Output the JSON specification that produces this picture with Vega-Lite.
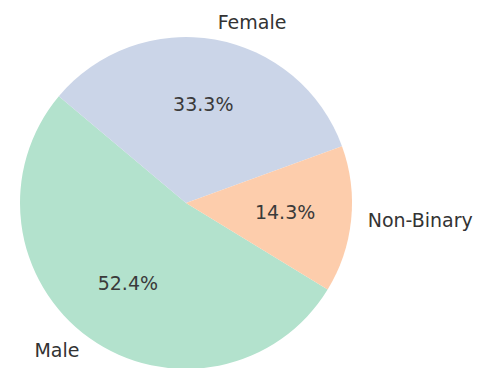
{
  "$schema": "https://vega.github.io/schema/vega-lite/v6.json",
  "autosize": "none",
  "width": 372,
  "height": 406,
  "padding": {"left": 0, "top": 0, "right": 112, "bottom": 0},
  "background": "white",
  "view": {"stroke": null},
  "data": {"values": [
    {"gender": "Male", "count": 11, "pct": "52.4%"},
    {"gender": "Female", "count": 7, "pct": "33.3%"},
    {"gender": "Non-Binary", "count": 3, "pct": "14.3%"}
  ]},
  "encoding": {
    "theta": {"field": "count", "type": "quantitative", "stack": true, "scale": {"range": [1.22173, 7.50492]}},
    "order": {"field": "gender", "sort": "descending"}
  },
  "layer": [
    {
      "mark": {"type": "arc", "outerRadius": 166},
      "encoding": {
        "color": {"field": "gender", "type": "nominal", "legend": null,
          "scale": {"domain": ["Male", "Non-Binary", "Female"], "range": ["#b3e2cd", "#fdcdac", "#cbd5e8"]}}
      }
    },
    {
      "mark": {"type": "text", "radius": 99.6, "font": "DejaVu Sans", "fontSize": 19, "baseline": "middle", "align": "center"},
      "encoding": {"text": {"field": "pct"}, "color": {"value": "#3a3a3a"}}
    },
    {
      "mark": {"type": "text", "radius": 182.6, "font": "DejaVu Sans", "fontSize": 19, "baseline": "middle", "align": "left"},
      "encoding": {"text": {"condition": {"test": "datum.gender == 'Male'", "value": ""}, "field": "gender"}, "color": {"value": "#333333"}}
    },
    {
      "mark": {"type": "text", "radius": 182.6, "font": "DejaVu Sans", "fontSize": 19, "baseline": "middle", "align": "right"},
      "encoding": {"text": {"condition": {"test": "datum.gender != 'Male'", "value": ""}, "field": "gender"}, "color": {"value": "#333333"}}
    }
  ]
}
